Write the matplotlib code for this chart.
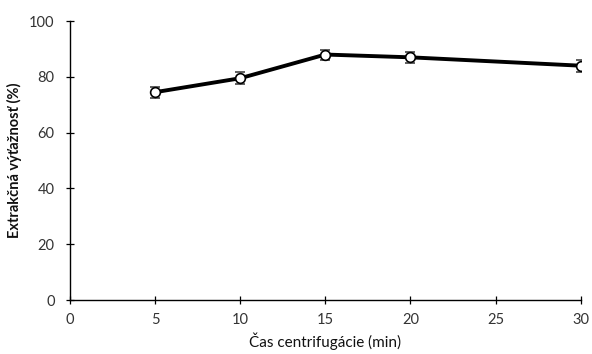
import matplotlib
matplotlib.use("Agg")
import matplotlib.pyplot as plt

# Hodnoty odčítané z grafu
cas = [5, 10, 15, 20, 30]
vytaznost = [74.5, 79.5, 88.0, 87.0, 84.0]
chyba = [2.0, 2.2, 1.8, 2.0, 2.2]

x_ticks = [0, 5, 10, 15, 20, 25, 30]
y_ticks = [0, 20, 40, 60, 80, 100]

plt.rcParams['font.family'] = ['Lato', 'DejaVu Sans']

fig = plt.figure(figsize=(5.92, 3.54), dpi=100)
ax = fig.add_axes([0.118, 0.1525, 0.863, 0.788])

ax.errorbar(cas, vytaznost, yerr=chyba, color='black', linewidth=2.8,
            marker='o', markersize=7, markerfacecolor='white',
            markeredgecolor='black', markeredgewidth=1.2,
            ecolor='#444444', elinewidth=0.9, capsize=3.5, capthick=0.9,
            zorder=3)

ax.set_xlim(0, 30)
ax.set_ylim(0, 100)
ax.set_xticks(x_ticks)
ax.set_yticks(y_ticks)

for s in ['top', 'right']:
    ax.spines[s].set_visible(False)
for s in ['left', 'bottom']:
    ax.spines[s].set_linewidth(1.0)
    ax.spines[s].set_color('black')
ax.tick_params(direction='inout', length=6, width=0.9, labelsize=10.5,
               labelcolor='#333333')
ax.tick_params(axis='x', pad=6)
ax.tick_params(axis='y', pad=8)

ax.set_xlabel('Čas centrifugácie (min)', fontsize=11, labelpad=4, color='#111111')
ax.set_ylabel('Extrakčná výťažnosť (%)', fontsize=10.5, fontweight='bold', labelpad=5, color='#111111')

fig.savefig('out.png', dpi=100, facecolor='white')
